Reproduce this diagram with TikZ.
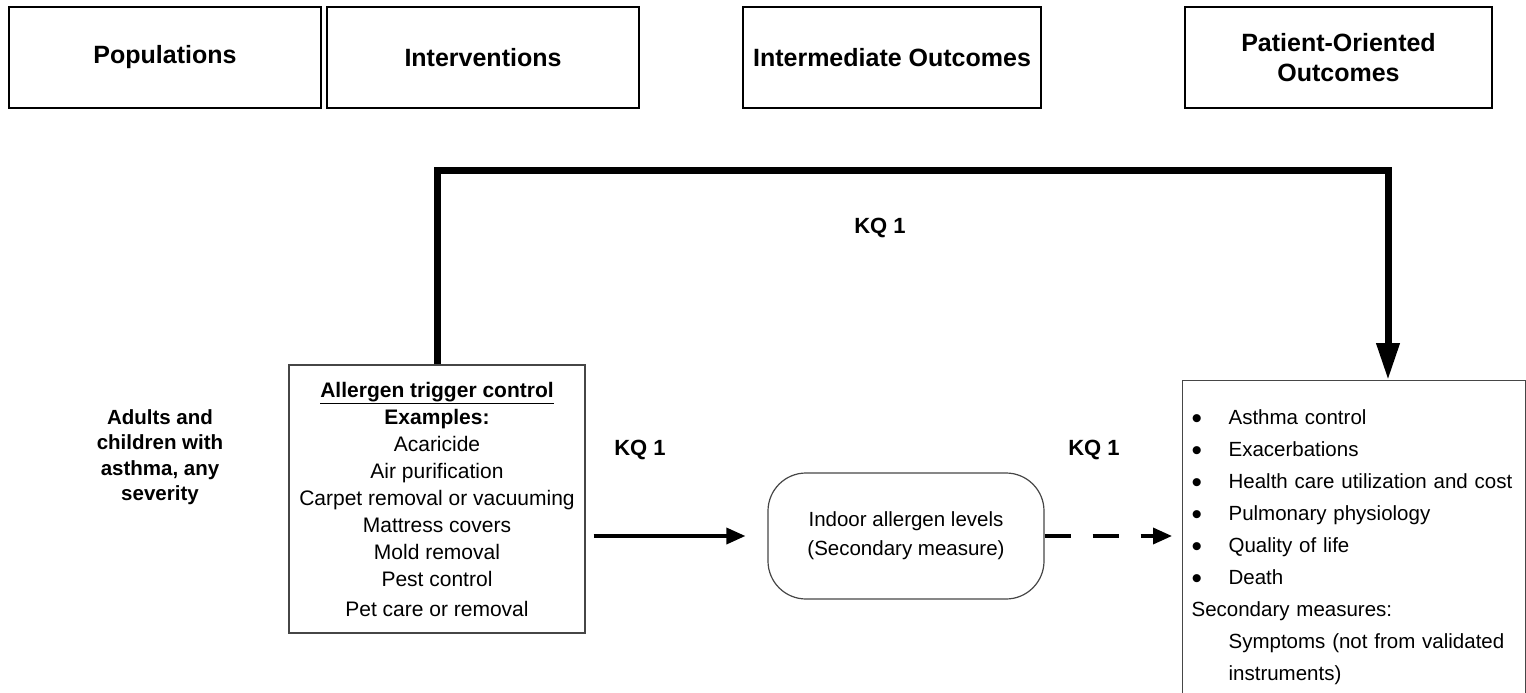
\documentclass[tikz,border=0pt]{standalone}
\usepackage{fontspec}
\usepackage{graphicx}
\setmainfont{Liberation Sans}
\usetikzlibrary{arrows.meta}
\definecolor{boxgray}{RGB}{70,70,70}
\newcommand{\bigdot}{\makebox[37pt][l]{\raisebox{-0.19em}{\scalebox{1.45}{\textbullet}}}}

\begin{document}
\begin{tikzpicture}[x=1pt,y=-1pt,
  header/.style={draw,line width=2.5pt,minimum height=101pt,align=center,
    font=\fontsize{25}{30}\selectfont\bfseries},
  plain/.style={align=center,font=\fontsize{21}{27}\selectfont},
  kq/.style={font=\fontsize{22}{25}\selectfont\bfseries},
  direct/.style={line width=7pt,-{Triangle[width=22pt,length=37pt]}},
  flow/.style={line width=3.5pt,-{Triangle[width=16pt,length=19pt]}}]
  \useasboundingbox (0,0) rectangle (1526,693);
  % column headers
  \node[header,minimum width=312pt] (pophead) at (165,57.5) {Populations};
  \node[header,minimum width=312pt] (inthead) at (483,57.5) {Interventions};
  \node[header,minimum width=298pt] (midhead) at (892,57.5) {Intermediate Outcomes};
  \node[header,minimum width=307pt] (outhead) at (1338.5,57.5) {Patient-Oriented\\Outcomes};
  % boxes
  \node[plain,font=\fontsize{20.5}{25.5}\selectfont\bfseries] (pop) at (160,457)
    {Adults and\\children with\\asthma, any\\severity};
  \node[plain,draw=boxgray,line width=1.2pt,minimum width=296pt,minimum height=268pt] (allergen) at (437,499)
    {\underline{\textbf{Allergen trigger control}}\\\textbf{Examples:}\\Acaricide\\Air purification\\
     Carpet removal or vacuuming\\Mattress covers\\Mold removal\\Pest control\\[3pt]Pet care or removal};
  \node[plain,draw=boxgray,line width=1.2pt,rounded corners=38pt,minimum width=276pt,minimum height=126pt,
    font=\fontsize{20.5}{29}\selectfont] (indoor) at (906,536) {Indoor allergen levels\\(Secondary measure)};
  \node[draw=boxgray,line width=1.2pt,anchor=north west,align=left,text width=325pt,inner xsep=9pt,inner ysep=29pt,
    font=\fontsize{20.5}{32}\selectfont] (outcome) at (1182,380)
    {\bigdot Asthma control\\
     \bigdot Exacerbations\\
     \bigdot Health care utilization and cost\\
     \bigdot Pulmonary physiology\\
     \bigdot Quality of life\\
     \bigdot Death\\
     Secondary measures:\\
     \hspace*{37pt}Symptoms (not from validated\\
     \hspace*{37pt}instruments)};
  % key question labels
  \node[kq] (kqtop) at (880,228) {KQ 1};
  \node[kq] (kqleft) at (640,450) {KQ 1};
  \node[kq] (kqright) at (1094,450) {KQ 1};
  % arrows
  \coordinate (bend) at (1388,170);
  \draw[direct] (allergen.north) |- (bend) -- (bend |- outcome.north);
  \draw[flow,shorten <=8pt,shorten >=22pt] (allergen.east |- indoor.west) -- (indoor.west);
  \draw[flow,dash pattern=on 26pt off 22pt,shorten >=10pt] (indoor.east) -- (indoor.east -| outcome.west);
\end{tikzpicture}
\end{document}
